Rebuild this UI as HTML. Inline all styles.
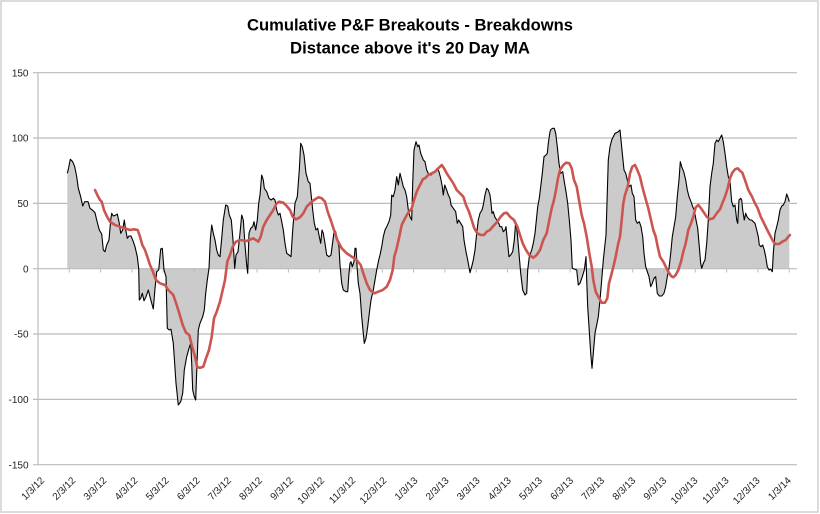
<!DOCTYPE html>
<html>
<head>
<meta charset="utf-8">
<style>
html,body{margin:0;padding:0;background:#fff;}
svg{display:block;}
text{font-family:"Liberation Sans",Arial,sans-serif;}
</style>
</head>
<body>
<svg width="820" height="514" viewBox="0 0 820 514" xmlns="http://www.w3.org/2000/svg">
<rect x="0" y="0" width="820" height="514" fill="#fff"/>
<rect x="1" y="1" width="817" height="511" fill="#fff" stroke="#d0d0d0" stroke-width="1.5"/>

<text x="410" y="30.5" text-anchor="middle" font-size="16.5" font-weight="bold" fill="#000" textLength="326" lengthAdjust="spacingAndGlyphs">Cumulative P&amp;F Breakouts - Breakdowns</text>
<text x="410" y="53.5" text-anchor="middle" font-size="16.5" font-weight="bold" fill="#000" textLength="240" lengthAdjust="spacingAndGlyphs">Distance above it's 20 Day MA</text>

<g stroke="#bcbcbc" stroke-width="1.2">
<line x1="33" y1="72.7" x2="797" y2="72.7"/>
<line x1="33" y1="138" x2="797" y2="138"/>
<line x1="33" y1="203.4" x2="797" y2="203.4"/>
<line x1="33" y1="334" x2="797" y2="334"/>
<line x1="33" y1="399.4" x2="797" y2="399.4"/>
<line x1="33" y1="464.7" x2="797" y2="464.7"/>
<line x1="38" y1="72.7" x2="38" y2="464.7"/>
</g>

<g font-size="10" fill="#222" text-anchor="end">
<text x="28.5" y="76.3">150</text>
<text x="28.5" y="141.6">100</text>
<text x="28.5" y="207">50</text>
<text x="28.5" y="272.3">0</text>
<text x="28.5" y="337.6">-50</text>
<text x="28.5" y="403">-100</text>
<text x="28.5" y="468.3">-150</text>
</g>

<polygon fill="#cbcbcb" stroke="none" points="67.3,268.7 67.3,173.3 68.3,169.3 70.3,159.3 72.7,161.7 74.7,166.7 76.7,176.7 78.3,188.3 80.7,196.7 82.7,206 84.7,201.7 88,201.7 90,208.3 92.3,210 95,212.7 96.7,220 99.3,230 101.7,234 103.3,250 105,251.7 106.7,245 109,240 110.7,220 111.7,213.3 113.3,216 116,215 117.3,214 119.3,223.3 120.7,233.3 122.7,230 124.3,220 125.7,230 127.3,238.3 129,236 131,236 133.3,241.7 135,246.7 137.3,256.7 138.7,268.3 139.3,300 140.7,298.3 142.3,293.3 144,300.7 146,296.7 148.3,290 150,296.7 151.7,303.3 153.3,309 155,288.3 156.7,271.7 158.7,270 160.7,249 162.3,248.3 164,270 166,276.7 167.3,328.3 169.3,330 171,329.3 173.3,343.3 176,383.3 178.3,405 180.7,401.7 182.7,393.3 184.3,370 186.7,356.7 189,348.3 190.7,343.3 191.7,363.3 192.7,390 194.3,396.7 195.7,400 197,363.3 198.3,330 200,323.3 202.7,316.7 204.3,310 205.7,293.3 207.3,280 209,268.3 210.3,240 211.7,225 213.3,233.3 215,240 216.7,250 218.3,255 220,256.7 221.7,238.3 223.3,220 225.7,205 227.7,206 229.3,215 231.3,220 233,240 234.7,268.3 236,255 238,251.7 240,233.3 241.7,215 243.3,220 245,245 246.7,265 247.7,273.3 249,233.3 250.7,228.3 252.7,226.7 254,221.7 255.7,230 257.3,220 258.7,203.3 260,195 261.7,175 263.3,180 264.3,188.3 266.7,191.7 269,198.3 271,200 273.3,198.3 275,200 276.7,210 278.3,215 280,213.3 281.7,221.7 283.3,230 285,243.3 286.7,253.3 289,255 291,256.7 292.7,230 295,203.3 297.3,196.7 299.3,170 300.7,143.3 302.3,146.7 304,155 306,173.3 308.3,181.7 310,183.3 311,193.3 312.7,210 314.3,223.3 316,230 317.7,228.3 319.3,236.7 320.7,243.3 322,230 323.3,233.3 325,243.3 326.7,255 329,256.7 331,255 332.3,245 334.3,230 335.7,231.7 337.3,240 339,246.7 340,265 341.7,283.3 343.3,290 346,291.7 347.7,291.7 349,273.3 350,263.3 351,261.7 352.3,266.7 354,261.7 355,248.3 356,248.3 357.3,270 358.3,283.3 360,293.3 361.7,316.7 363.3,333.3 364.3,343.3 366,338.3 367.7,326.7 369.3,313.3 371,300 373.3,290 375,280 376.7,270 378.7,260 380,255 381.7,246.7 383.3,236.7 385,230 386.7,226.7 389,221.7 390.7,215 391.7,195 393.3,196.7 395,190 396.7,176.7 398.3,185 400,173.3 401.7,180 403.3,186.7 405,190 406.7,196.7 408.3,210 410,216.7 411.7,220 412.7,183.3 414,150 416,141.7 417.7,146.7 419,145 420.7,153.3 423.3,160 425,161.7 426.7,170 429,175 431,175 432.7,173.3 435,171.7 437.3,168.3 439,171.7 440.7,178.3 442.3,186.7 443.3,195 444.7,185 446.7,190 448.3,195 450,198.3 451,205 453.3,208.3 455.7,211.7 457.3,223.3 458.7,220 460.7,223.3 462.7,226.7 464,240 466,251.7 467.7,260 470,272.7 471.7,266.7 473.3,260 475,250 476.7,233.3 478.3,220 480,213.3 482,210 483.3,205 485,195 486.7,188.3 488.3,190 490,195 491,203.3 492,213.3 493.3,211.7 494.7,216.7 496.7,220 498.7,223.3 500,226.7 501.7,226.7 503.3,231.7 505,230 506,226.7 507.3,240 509,256.7 510.7,255 512.7,251.7 514.3,240 515.7,221.7 517.3,233.3 519,253.3 520.7,273.3 522.7,290 525,295 526.7,293.3 527.7,270 529.3,256.7 531.7,250 533.3,243.3 535,233.3 536.7,216.7 537.7,206.7 539.3,198.3 540.7,186.7 542.3,173.3 544,156.7 546,155 547.3,153.3 548.3,143.3 550,131.7 551,129.3 552.7,128.3 554.3,128.3 555.7,133.3 557.3,146.7 559,163.3 560.7,173.3 562.7,171.7 564.3,181.7 566,191.7 567.7,203.3 569.3,220 571,240 572.3,268.3 574,269 576.7,270 578.3,285 580,283.3 582.3,276.7 584.3,270 586,256.7 586.7,280 587.7,306.7 589,326.7 590.7,353.3 592,368.3 593.3,353.3 595,333.3 596.7,325 598.3,316.7 600,300 601.7,280 603.3,260 606,235 608.3,160 610,146.7 611.7,140 613.3,136.7 615,133.3 616.7,132.7 618.3,131.7 620,130 621,140 622.3,153.3 624,170 625.7,173.3 627.3,180 629,186.7 631,185 632.3,193.3 634,196.7 635.7,220 637.3,223.3 639.3,221.7 641,226.7 642.7,236.7 644,253.3 645.7,266.7 647.3,271.7 649,276.7 650.7,286.7 652.3,283.3 654,278.3 655.7,276.7 657.3,293.3 659.3,296 661.7,296 664,293.3 665.7,286.7 667.3,276.7 669,268.3 670.7,253.3 672.3,236.7 674,226.7 675.7,216.7 677.3,196.7 679,180 680.3,161.7 681.7,166.7 683.7,171.7 685.7,180 687.3,190 689,196.7 691,201.7 692.7,206.7 694.3,210 696,220 697.7,228.3 699.3,246.7 700.7,263.3 701.7,268.3 703.3,263.3 705,260 706.7,243.3 708.3,220 710,186.7 711.7,173.3 713.3,163.3 715,143.3 716.7,140 718.3,141.7 720,138.3 721.7,135 723.3,141.7 725,153.3 726.7,166.7 728.3,176.7 730,181.7 731.7,201.7 733.3,206.7 735,205 736.7,220 737.7,223.3 739,200 740.7,198.3 741.7,200 742.7,210 744.3,220 745.7,213.3 747,216.7 748.3,218.3 750,220 751.7,220 753.3,221.7 755,223.3 756.7,230 758.3,236.7 759.3,245 761,246.7 762.7,245 764.3,250 765.7,256.7 767.3,266.7 769,270 770.7,269.3 772.3,271.7 773.3,253.3 775,233.3 776.7,226.7 778.3,220 780,210 781.7,206 783.3,205 785,201.7 786.7,194 788.3,198.3 789.3,201.7 789.3,268.7"/>

<g stroke="#bcbcbc" stroke-width="1.2">
<line x1="33" y1="268.7" x2="797" y2="268.7"/>
</g>
<g stroke="#bcbcbc" stroke-width="1">
<line x1="38" y1="268.7" x2="38" y2="272.5"/>
<line x1="69.3" y1="268.7" x2="69.3" y2="272.5"/>
<line x1="100.6" y1="268.7" x2="100.6" y2="272.5"/>
<line x1="131.9" y1="268.7" x2="131.9" y2="272.5"/>
<line x1="163.2" y1="268.7" x2="163.2" y2="272.5"/>
<line x1="194.5" y1="268.7" x2="194.5" y2="272.5"/>
<line x1="225.8" y1="268.7" x2="225.8" y2="272.5"/>
<line x1="257.1" y1="268.7" x2="257.1" y2="272.5"/>
<line x1="288.4" y1="268.7" x2="288.4" y2="272.5"/>
<line x1="319.7" y1="268.7" x2="319.7" y2="272.5"/>
<line x1="351" y1="268.7" x2="351" y2="272.5"/>
<line x1="382.3" y1="268.7" x2="382.3" y2="272.5"/>
<line x1="413.6" y1="268.7" x2="413.6" y2="272.5"/>
<line x1="444.9" y1="268.7" x2="444.9" y2="272.5"/>
<line x1="476.2" y1="268.7" x2="476.2" y2="272.5"/>
<line x1="507.5" y1="268.7" x2="507.5" y2="272.5"/>
<line x1="538.8" y1="268.7" x2="538.8" y2="272.5"/>
<line x1="570.1" y1="268.7" x2="570.1" y2="272.5"/>
<line x1="601.4" y1="268.7" x2="601.4" y2="272.5"/>
<line x1="632.7" y1="268.7" x2="632.7" y2="272.5"/>
<line x1="664" y1="268.7" x2="664" y2="272.5"/>
<line x1="695.3" y1="268.7" x2="695.3" y2="272.5"/>
<line x1="726.6" y1="268.7" x2="726.6" y2="272.5"/>
<line x1="757.9" y1="268.7" x2="757.9" y2="272.5"/>
<line x1="789.2" y1="268.7" x2="789.2" y2="272.5"/>
</g>

<polyline fill="none" stroke="#000" stroke-width="1.1" stroke-linejoin="round" points="67.3,173.3 68.3,169.3 70.3,159.3 72.7,161.7 74.7,166.7 76.7,176.7 78.3,188.3 80.7,196.7 82.7,206 84.7,201.7 88,201.7 90,208.3 92.3,210 95,212.7 96.7,220 99.3,230 101.7,234 103.3,250 105,251.7 106.7,245 109,240 110.7,220 111.7,213.3 113.3,216 116,215 117.3,214 119.3,223.3 120.7,233.3 122.7,230 124.3,220 125.7,230 127.3,238.3 129,236 131,236 133.3,241.7 135,246.7 137.3,256.7 138.7,268.3 139.3,300 140.7,298.3 142.3,293.3 144,300.7 146,296.7 148.3,290 150,296.7 151.7,303.3 153.3,309 155,288.3 156.7,271.7 158.7,270 160.7,249 162.3,248.3 164,270 166,276.7 167.3,328.3 169.3,330 171,329.3 173.3,343.3 176,383.3 178.3,405 180.7,401.7 182.7,393.3 184.3,370 186.7,356.7 189,348.3 190.7,343.3 191.7,363.3 192.7,390 194.3,396.7 195.7,400 197,363.3 198.3,330 200,323.3 202.7,316.7 204.3,310 205.7,293.3 207.3,280 209,268.3 210.3,240 211.7,225 213.3,233.3 215,240 216.7,250 218.3,255 220,256.7 221.7,238.3 223.3,220 225.7,205 227.7,206 229.3,215 231.3,220 233,240 234.7,268.3 236,255 238,251.7 240,233.3 241.7,215 243.3,220 245,245 246.7,265 247.7,273.3 249,233.3 250.7,228.3 252.7,226.7 254,221.7 255.7,230 257.3,220 258.7,203.3 260,195 261.7,175 263.3,180 264.3,188.3 266.7,191.7 269,198.3 271,200 273.3,198.3 275,200 276.7,210 278.3,215 280,213.3 281.7,221.7 283.3,230 285,243.3 286.7,253.3 289,255 291,256.7 292.7,230 295,203.3 297.3,196.7 299.3,170 300.7,143.3 302.3,146.7 304,155 306,173.3 308.3,181.7 310,183.3 311,193.3 312.7,210 314.3,223.3 316,230 317.7,228.3 319.3,236.7 320.7,243.3 322,230 323.3,233.3 325,243.3 326.7,255 329,256.7 331,255 332.3,245 334.3,230 335.7,231.7 337.3,240 339,246.7 340,265 341.7,283.3 343.3,290 346,291.7 347.7,291.7 349,273.3 350,263.3 351,261.7 352.3,266.7 354,261.7 355,248.3 356,248.3 357.3,270 358.3,283.3 360,293.3 361.7,316.7 363.3,333.3 364.3,343.3 366,338.3 367.7,326.7 369.3,313.3 371,300 373.3,290 375,280 376.7,270 378.7,260 380,255 381.7,246.7 383.3,236.7 385,230 386.7,226.7 389,221.7 390.7,215 391.7,195 393.3,196.7 395,190 396.7,176.7 398.3,185 400,173.3 401.7,180 403.3,186.7 405,190 406.7,196.7 408.3,210 410,216.7 411.7,220 412.7,183.3 414,150 416,141.7 417.7,146.7 419,145 420.7,153.3 423.3,160 425,161.7 426.7,170 429,175 431,175 432.7,173.3 435,171.7 437.3,168.3 439,171.7 440.7,178.3 442.3,186.7 443.3,195 444.7,185 446.7,190 448.3,195 450,198.3 451,205 453.3,208.3 455.7,211.7 457.3,223.3 458.7,220 460.7,223.3 462.7,226.7 464,240 466,251.7 467.7,260 470,272.7 471.7,266.7 473.3,260 475,250 476.7,233.3 478.3,220 480,213.3 482,210 483.3,205 485,195 486.7,188.3 488.3,190 490,195 491,203.3 492,213.3 493.3,211.7 494.7,216.7 496.7,220 498.7,223.3 500,226.7 501.7,226.7 503.3,231.7 505,230 506,226.7 507.3,240 509,256.7 510.7,255 512.7,251.7 514.3,240 515.7,221.7 517.3,233.3 519,253.3 520.7,273.3 522.7,290 525,295 526.7,293.3 527.7,270 529.3,256.7 531.7,250 533.3,243.3 535,233.3 536.7,216.7 537.7,206.7 539.3,198.3 540.7,186.7 542.3,173.3 544,156.7 546,155 547.3,153.3 548.3,143.3 550,131.7 551,129.3 552.7,128.3 554.3,128.3 555.7,133.3 557.3,146.7 559,163.3 560.7,173.3 562.7,171.7 564.3,181.7 566,191.7 567.7,203.3 569.3,220 571,240 572.3,268.3 574,269 576.7,270 578.3,285 580,283.3 582.3,276.7 584.3,270 586,256.7 586.7,280 587.7,306.7 589,326.7 590.7,353.3 592,368.3 593.3,353.3 595,333.3 596.7,325 598.3,316.7 600,300 601.7,280 603.3,260 606,235 608.3,160 610,146.7 611.7,140 613.3,136.7 615,133.3 616.7,132.7 618.3,131.7 620,130 621,140 622.3,153.3 624,170 625.7,173.3 627.3,180 629,186.7 631,185 632.3,193.3 634,196.7 635.7,220 637.3,223.3 639.3,221.7 641,226.7 642.7,236.7 644,253.3 645.7,266.7 647.3,271.7 649,276.7 650.7,286.7 652.3,283.3 654,278.3 655.7,276.7 657.3,293.3 659.3,296 661.7,296 664,293.3 665.7,286.7 667.3,276.7 669,268.3 670.7,253.3 672.3,236.7 674,226.7 675.7,216.7 677.3,196.7 679,180 680.3,161.7 681.7,166.7 683.7,171.7 685.7,180 687.3,190 689,196.7 691,201.7 692.7,206.7 694.3,210 696,220 697.7,228.3 699.3,246.7 700.7,263.3 701.7,268.3 703.3,263.3 705,260 706.7,243.3 708.3,220 710,186.7 711.7,173.3 713.3,163.3 715,143.3 716.7,140 718.3,141.7 720,138.3 721.7,135 723.3,141.7 725,153.3 726.7,166.7 728.3,176.7 730,181.7 731.7,201.7 733.3,206.7 735,205 736.7,220 737.7,223.3 739,200 740.7,198.3 741.7,200 742.7,210 744.3,220 745.7,213.3 747,216.7 748.3,218.3 750,220 751.7,220 753.3,221.7 755,223.3 756.7,230 758.3,236.7 759.3,245 761,246.7 762.7,245 764.3,250 765.7,256.7 767.3,266.7 769,270 770.7,269.3 772.3,271.7 773.3,253.3 775,233.3 776.7,226.7 778.3,220 780,210 781.7,206 783.3,205 785,201.7 786.7,194 788.3,198.3 789.3,201.7"/>

<polyline fill="none" stroke="#cc5550" stroke-width="2.6" stroke-linejoin="round" stroke-linecap="round" points="95,190 97.3,195 100,200 101.7,201.7 104,210 106.7,216 110,221.7 115,225 120,226.7 125,228.3 130,230 134,229.3 137.7,230 140,236.7 142.3,245 145,250 147.3,256.7 150,265 152.3,270 156,280 160,283.3 165,285 168.3,290 173.3,295 176.7,305 179.3,313.3 182.7,325 186,332.7 189.3,335 191.7,345 195,356.7 197.3,367.3 200,367.7 203.3,366.7 206,358.3 209,350 211.7,336.7 214,318.3 216.7,311.7 220,301.7 222.7,290 225,280 227.3,261.7 230,255 232.7,246.7 236,241.7 240,240 246.7,241 253.3,238.3 258.3,241.7 260.7,236.7 263.3,226.7 266.7,220 270,215 273.3,210 276.7,203.3 279,201.7 283.3,202.7 286.7,206 290,210 292.7,216.7 296,219.3 300,217.3 303.3,213.3 306.7,206.7 310,203.3 314,200 318.3,197.3 321.7,198.3 325,201.7 327.7,211.7 330.7,220 334,230 337.3,240 341.7,248.3 346.7,253.3 351.7,256.7 356.7,260 360.7,265 363.3,273.3 366.7,283.3 370,290 374.3,293.3 378.3,291.7 382.7,290 386.7,286.7 390,280 392.7,270 394.3,256.7 396.7,248.3 399.3,236.7 401.7,225 405,218.3 408.3,212.7 411.7,208.3 414,200 416.7,191.7 420,185 423,179 425,178.3 428.3,175 431.7,173.3 435,171.7 438.3,168.3 441.7,165 444,168.3 446.7,173.3 450,178.3 453.3,183.3 456.7,190 460,193.3 463.3,196.7 466,205 469,211.7 471.7,220 474.3,228.3 477.3,233.3 480.7,235 484,235 486.7,231.7 490,230 493.3,226 497.3,221.7 500.7,216.7 504,213.3 506.7,212.7 510,216.7 514,220 517.3,226.7 520,235 522.7,243.3 526,250 529.3,255 533.3,257.7 536.7,255 540,250 543.3,240 546.7,233.3 549.3,220 551.7,208.3 554,200 556,190 558,178.3 560,170 563.3,165 566,162.7 569.3,163.3 571.7,168.3 574,180 576.7,186.7 579,200 581.7,215 584,223.3 586.7,236.7 589.3,253.3 591.7,266.7 593.3,280 595.7,291.7 598.3,296.7 601.7,302.7 605,302.7 607.3,298.3 609,283.3 611.7,273.3 615,260 618.3,243.3 620,236.7 621.7,220 623.3,203.3 625,195 627.7,186.7 630,173.3 632.3,166.7 635,165 637.3,170 640,176.7 642.3,186.7 645,196.7 648.3,208.3 651,220 653.3,230 655.7,236.7 657.7,246.7 660,256.7 663.3,261.7 665.7,266.7 668.3,271.7 671,276 673.3,277.3 675.7,275 678.3,270 681,261.7 683.3,251.7 685.7,243.3 688.3,230 691,223.3 693.3,216.7 695.7,207.3 698.3,205 701,208.3 703.3,211.7 706.7,216.7 710,219.3 713.3,218.3 716.7,213.3 720,209.3 722.3,203.3 725,196.7 727.7,188.3 730,178.3 732.3,172.7 735,169.3 737.7,168.3 740,170.7 742.3,172.7 745,180 748.3,190 751.7,196 755,203.3 757.7,208.3 760.7,216.7 764,223.3 767.3,230 770.7,236.7 773.3,241.7 775.7,244 779,244 782.3,241.7 785.7,240 788.3,236.7 790,235"/>

<g font-size="10" fill="#222" text-anchor="end">
<text transform="translate(45,481) rotate(-45)">1/3/12</text>
<text transform="translate(76.1,481) rotate(-45)">2/3/12</text>
<text transform="translate(107.2,481) rotate(-45)">3/3/12</text>
<text transform="translate(138.3,481) rotate(-45)">4/3/12</text>
<text transform="translate(169.4,481) rotate(-45)">5/3/12</text>
<text transform="translate(200.5,481) rotate(-45)">6/3/12</text>
<text transform="translate(231.7,481) rotate(-45)">7/3/12</text>
<text transform="translate(262.8,481) rotate(-45)">8/3/12</text>
<text transform="translate(293.9,481) rotate(-45)">9/3/12</text>
<text transform="translate(325,481) rotate(-45)">10/3/12</text>
<text transform="translate(356.1,481) rotate(-45)">11/3/12</text>
<text transform="translate(387.2,481) rotate(-45)">12/3/12</text>
<text transform="translate(418.3,481) rotate(-45)">1/3/13</text>
<text transform="translate(449.4,481) rotate(-45)">2/3/13</text>
<text transform="translate(480.5,481) rotate(-45)">3/3/13</text>
<text transform="translate(511.7,481) rotate(-45)">4/3/13</text>
<text transform="translate(542.8,481) rotate(-45)">5/3/13</text>
<text transform="translate(573.9,481) rotate(-45)">6/3/13</text>
<text transform="translate(605,481) rotate(-45)">7/3/13</text>
<text transform="translate(636.1,481) rotate(-45)">8/3/13</text>
<text transform="translate(667.2,481) rotate(-45)">9/3/13</text>
<text transform="translate(698.3,481) rotate(-45)">10/3/13</text>
<text transform="translate(729.4,481) rotate(-45)">11/3/13</text>
<text transform="translate(760.5,481) rotate(-45)">12/3/13</text>
<text transform="translate(791.7,481) rotate(-45)">1/3/14</text>
</g>
</svg>
</body>
</html>
